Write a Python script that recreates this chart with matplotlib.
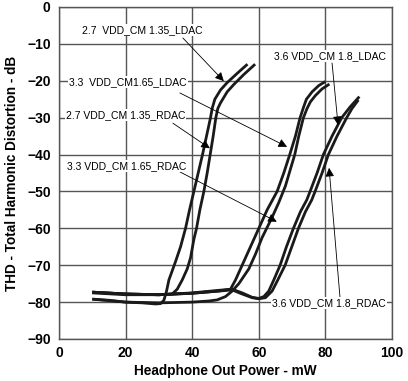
import matplotlib
matplotlib.use("Agg")
import matplotlib.pyplot as plt

# ---- data ----
la_x = [10, 15, 20, 25, 29, 30.5, 31.5, 32.3, 33, 34, 35, 36.5, 38, 39.2, 40.5, 41.8, 43.1, 44.3, 45.5, 46, 46.8, 48.5, 50.5, 53.5, 56.6]
la_y = [-79.2, -79.5, -80, -80.2, -80.5, -80.4, -79.5, -77, -74, -71.5, -69, -65, -60, -55, -50, -45, -40, -35, -30, -27.5, -25, -22.5, -20.5, -18, -15.5]

lb_x = [10, 20, 30, 34, 35.5, 37, 38.5, 39.5, 40.5, 41.3, 42.3, 43.5, 44.5, 45.4, 46.3, 47.1, 47.7, 48.5, 50.5, 52.5, 55.5, 58.9]
lb_y = [-77.3, -77.8, -78, -77.8, -76.5, -74, -71, -68, -63, -60, -55, -50, -45, -40, -35, -30, -27.5, -26, -23, -21, -18.3, -15.5]

ma_x = [10, 20, 30, 40, 48, 51.5, 53, 55, 57.5, 60, 62.5, 65.5, 67.5, 69.3, 71, 72.4, 73.5, 74.3, 76, 78, 80]
ma_y = [-77.3, -77.8, -78, -77.6, -77, -76.5, -74, -70, -65, -60, -55, -50, -45, -40, -35, -30, -27, -25, -23, -21.3, -20.2]

mb_x = [10, 15, 20, 30, 40, 45, 47.5, 50, 52, 54, 57, 59, 61, 64, 66, 68, 70.8, 72, 73.4, 74.5, 75.5, 77, 79, 81.2]
mb_y = [-79.2, -79.6, -80, -80.2, -80, -79.7, -79.4, -78.5, -77, -75, -71, -67, -62.5, -57, -53, -48.5, -40, -35, -30, -27.5, -25.7, -24, -22.2, -20.9]

ra_x = [10, 20, 30, 40, 48, 52, 55, 58, 60, 61.5, 63, 64.5, 66.4, 68.3, 70.4, 72.5, 74.4, 75.4, 77.5, 79.4, 82, 84.9, 87.5, 90.2]
ra_y = [-77.3, -77.8, -78, -77.5, -76.8, -76.5, -77.5, -78.7, -79, -78.5, -77, -74, -70, -65, -60, -55.5, -52.3, -50, -45, -40, -35, -30, -27, -24.3]

rb_x = [10, 20, 30, 40, 48, 52, 55, 58, 60, 62, 64, 65.7, 67.9, 69.9, 71.9, 74, 75.9, 76.9, 79, 80.9, 83.5, 86.4, 88, 89.9]
rb_y = [-77.5, -78, -78, -77.6, -77, -76.7, -77.8, -78.8, -79.1, -78.8, -77, -74, -70, -65, -60, -55.5, -52.3, -50, -45, -40, -35, -30, -27.5, -25.2]

x_ticks = [0, 20, 40, 60, 80, 100]
y_ticks = [0, -10, -20, -30, -40, -50, -60, -70, -80, -90]

labels = ["2.7  VDD_CM 1.35_LDAC", "3.3  VDD_CM1.65_LDAC", "2.7 VDD_CM 1.35_RDAC",
          "3.3 VDD_CM 1.65_RDAC", "3.6 VDD_CM 1.8_LDAC", "3.6 VDD_CM 1.8_RDAC"]
label_xy = [(24.9, -6.2), (20.8, -20.3), (20.0, -29.3), (20.3, -43.1), (81.4, -13.3), (81.1, -80.2)]
arrow_from = [(37.2, -8.4), (36.3, -23.3), (34.2, -31.5), (36.3, -44.7), (82.0, -15.2), (84.4, -78.9)]
arrow_to = [(49.5, -20.1), (68.5, -37.9), (45.3, -38.3), (65.4, -58.2), (83.8, -32.0), (81.1, -43.6)]

# ---- figure ----
W, H = 408, 381
fig = plt.figure(figsize=(W / 100, H / 100), dpi=100)
ax = fig.add_axes([59 / W, 1 - 339 / H, 333 / W, 332 / H])
ax.set_xlim(0, 100)
ax.set_ylim(-90, 0)
ax.set_xticks(x_ticks)
ax.set_yticks(y_ticks)
ax.grid(True, color="#555555", lw=1.0)
ax.set_axisbelow(True)
for s in ax.spines.values():
    s.set_color("#555555")
    s.set_linewidth(1.0)
ax.tick_params(axis="x", length=0, pad=5)
ax.tick_params(axis="y", length=0, pad=6)
for lab in ax.get_xticklabels() + ax.get_yticklabels():
    lab.set_fontfamily("Liberation Sans")
    lab.set_fontweight("bold")
    lab.set_fontsize(10)

for xs, ys in [(la_x, la_y), (lb_x, lb_y), (ma_x, ma_y), (mb_x, mb_y), (ra_x, ra_y), (rb_x, rb_y)]:
    ax.plot(xs, ys, color="#1a1a1a", lw=2.0, solid_capstyle="butt", zorder=3)

for txt, (tx, ty), (fx, fy), (hx, hy) in zip(labels, label_xy, arrow_from, arrow_to):
    ax.annotate("", xy=(hx, hy), xytext=(fx, fy),
                arrowprops=dict(arrowstyle="-|>", lw=0.6, color="black",
                                mutation_scale=13, shrinkA=0, shrinkB=0), zorder=4)
    ax.text(tx, ty, txt, ha="center", va="center", fontsize=7.5, family="Liberation Sans",
            bbox=dict(facecolor="white", edgecolor="none", pad=0.8), zorder=5)

ax.set_xlabel("Headphone Out Power - mW", fontsize=9.8, fontweight="bold",
              family="Liberation Sans", labelpad=3)
ax.set_ylabel("THD - Total Harmonic Distortion - dB", fontsize=9.8, fontweight="bold",
              family="Liberation Sans", labelpad=6)

fig.savefig("out.png", dpi=100)
